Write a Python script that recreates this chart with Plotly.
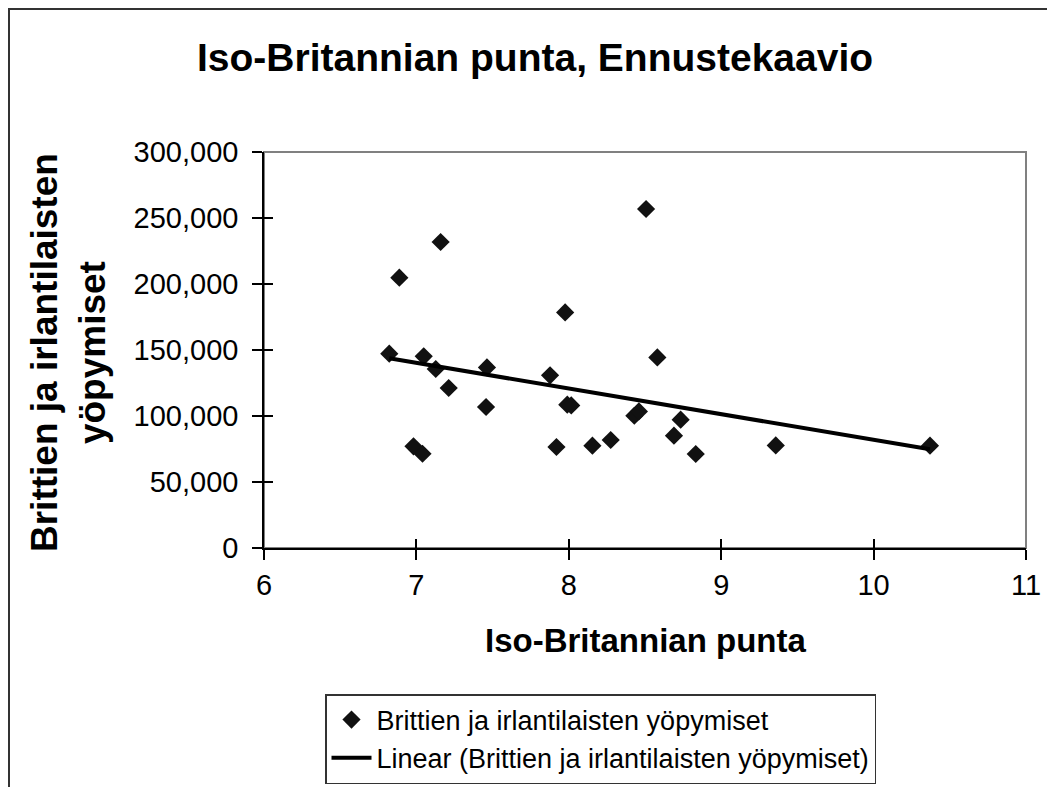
import numpy as np
import plotly.graph_objects as go

# Iso-Britannian punta (exchange rate) vs. British & Irish overnight stays
punta = [6.822, 6.888, 7.159, 7.048, 7.127, 7.212, 7.463, 7.457, 6.981, 7.040,
         7.877, 7.919, 7.976, 8.507, 8.581, 7.990, 8.016, 8.430, 8.460, 8.734,
         8.690, 8.155, 8.275, 8.833, 9.358, 10.370]
yopymiset = [147200, 204800, 231800, 145200, 135600, 121200, 136800, 106800, 77000, 71400,
             130800, 76500, 178500, 256800, 144400, 108600, 108000, 100200, 103500, 97200,
             85100, 77500, 81800, 71200, 77700, 77500]

series_name = "Brittien ja irlantilaisten yöpymiset"
trend_name = "Linear (Brittien ja irlantilaisten yöpymiset)"
x_ticks = [6, 7, 8, 9, 10, 11]
y_ticks = [0, 50000, 100000, 150000, 200000, 250000, 300000]

FONT = "Liberation Sans, Arial, sans-serif"

# least-squares trendline, like Excel's "Linear" trendline
slope, intercept = np.polyfit(punta, yopymiset, 1)
tx = np.array([min(punta), max(punta)])
ty = slope * tx + intercept

fig = go.Figure()
fig.add_trace(go.Scatter(
    x=punta, y=yopymiset, mode="markers", name=series_name,
    marker=dict(symbol="diamond", size=14, color="#111111"),
))
fig.add_trace(go.Scatter(
    x=tx, y=ty, mode="lines", name=trend_name,
    line=dict(color="black", width=4),
))

# the page body has an 8px margin, so the figure starts at (8, 8) on screen
OFF = 8
W, H = 1055 - OFF, 787 - OFF
L, R, T, B = 264 - OFF, 29, 152 - OFF, 239
pw, ph = W - L - R, H - T - B


def px_x(p):
    # screen pixel -> paper coordinate
    return (p - OFF - L) / pw


def px_y(p):
    return (H - B - (p - OFF)) / ph


axis_common = dict(showgrid=False, zeroline=False, showline=True,
                   linecolor="black", linewidth=1.5, ticks="outside",
                   ticklen=10, tickwidth=1.5, tickcolor="black",
                   tickfont=dict(family=FONT, size=29, color="black"))

fig.update_layout(
    width=W, height=H,
    margin=dict(l=L, r=R, t=T, b=B, autoexpand=False),
    paper_bgcolor="white", plot_bgcolor="white",
    font=dict(family=FONT, color="black"),
    showlegend=True,
    xaxis=dict(range=[6, 11], tickvals=x_ticks, ticklabelstandoff=0, **axis_common),
    yaxis=dict(range=[0, 300000], tickvals=y_ticks, tickformat=",", ticklabelstandoff=8,
               **axis_common),
    # second set of axes draws the inner half of Excel's "cross" tick marks
    xaxis2=dict(range=[6, 11], tickvals=x_ticks, overlaying="x", side="bottom",
                showticklabels=False, showgrid=False, zeroline=False, showline=False,
                ticks="inside", ticklen=9, tickwidth=1.5, tickcolor="black"),
    yaxis2=dict(range=[0, 300000], tickvals=y_ticks, overlaying="y", side="left",
                showticklabels=False, showgrid=False, zeroline=False, showline=False,
                ticks="inside", ticklen=9, tickwidth=1.5, tickcolor="black"),
    legend=dict(x=px_x(325), y=px_y(694), xanchor="left", yanchor="top",
                bordercolor="#333333", borderwidth=1.5, bgcolor="white",
                font=dict(family=FONT, size=27, color="black"),
                itemwidth=40, tracegroupgap=0),
    shapes=[
        # gray plot-area frame
        dict(type="rect", xref="paper", yref="paper", x0=0, y0=0, x1=1, y1=1,
             line=dict(color="#808080", width=2), layer="below"),
        # chart-area border (right and bottom edges run off the page)
        dict(type="rect", xref="paper", yref="paper",
             x0=px_x(OFF + 1), y0=px_y(820), x1=px_x(1090), y1=px_y(OFF + 1),
             line=dict(color="#333333", width=2), layer="below"),
    ],
    annotations=[
        dict(text="<b>Iso-Britannian punta, Ennustekaavio</b>", xref="paper", yref="paper",
             x=px_x(535), y=px_y(58), xanchor="center", yanchor="middle", showarrow=False,
             font=dict(family=FONT, size=39, color="black")),
        dict(text="<b>Iso-Britannian punta</b>", xref="paper", yref="paper",
             x=px_x(645), y=px_y(640), xanchor="center", yanchor="middle", showarrow=False,
             font=dict(family=FONT, size=33, color="black")),
        dict(text="<b>Brittien ja irlantilaisten<br>yöpymiset</b>", xref="paper", yref="paper",
             x=px_x(68), y=px_y(352), xanchor="center", yanchor="middle", showarrow=False,
             textangle=-90, font=dict(family=FONT, size=37, color="black")),
    ],
)
# dummy invisible trace so the overlay axes get drawn
fig.add_trace(go.Scatter(x=[None], y=[None], xaxis="x2", yaxis="y2",
                         showlegend=False, hoverinfo="skip"))

fig.write_html("out.html")
